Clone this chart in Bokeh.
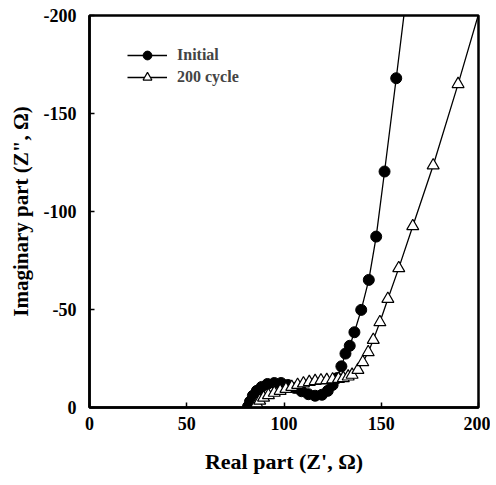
from bokeh.plotting import figure
from bokeh.models import Range1d, FixedTicker, Legend, LegendItem
from bokeh.embed import file_html
from bokeh.resources import INLINE

# Initial (Z', Z'')
init_re = [81.5, 82.5, 84.0, 86.0, 88.5, 91.5, 95.0, 98.5, 102.0, 105.5, 109.0, 112.5,
           116.0, 119.5, 122.5, 125.0, 127.3, 129.5, 131.6, 133.8, 136.2, 139.7, 143.6,
           147.4, 151.7, 157.7, 163.5]
init_im = [-0.5, -3.0, -6.0, -8.5, -10.5, -12.0, -12.5, -12.5, -11.5, -10.0, -8.3, -6.8,
           -6.0, -6.5, -8.5, -11.5, -15.0, -21.0, -27.5, -31.5, -38.4, -49.8, -65.1,
           -87.2, -120.4, -168.0, -215.0]

# 200 cycle (Z', Z'')
cyc_re = [85.0, 86.0, 87.5, 89.5, 92.0, 95.0, 98.0, 101.0, 104.0, 107.0, 110.0, 113.0,
          116.0, 119.0, 122.0, 125.0, 128.0, 130.5, 133.0, 135.0, 138.0, 140.5, 143.3,
          145.9, 149.3, 153.4, 159.0, 166.2, 176.7, 189.5, 201.0]
cyc_im = [-0.5, -2.0, -3.5, -5.0, -6.3, -7.5, -8.5, -9.5, -10.5, -11.5, -12.3, -13.0,
          -13.5, -13.8, -14.0, -14.3, -14.6, -15.0, -15.8, -16.7, -19.2, -23.1, -28.2,
          -34.5, -43.5, -55.4, -71.1, -92.5, -123.5, -165.0, -204.0]

x_ticks = [0, 50, 100, 150, 200]
x_tick_labels = ["0", "50", "100", "150", "200"]
y_ticks = [0, -50, -100, -150, -200]
y_tick_labels = ["0", "-50", "-100", "-150", "-200"]

FONT = "Liberation Serif"

p = figure(width=490, height=482, output_backend="svg", toolbar_location=None,
           x_range=Range1d(0, 200), y_range=Range1d(0, -200),
           min_border_left=89, min_border_top=15, min_border_right=12, min_border_bottom=75)

p.background_fill_color = "white"
p.border_fill_color = "white"
p.grid.visible = False
p.outline_line_color = "black"
p.outline_line_width = 2.5
p.outline_line_alpha = 1

for ax, ticks, labels in ((p.xaxis[0], x_ticks, x_tick_labels), (p.yaxis[0], y_ticks, y_tick_labels)):
    ax.ticker = FixedTicker(ticks=ticks)
    ax.major_label_overrides = {t: s for t, s in zip(ticks, labels)}
    ax.axis_line_width = 2.5
    ax.axis_line_color = "black"
    ax.major_tick_in = 5
    ax.major_tick_out = 0
    ax.major_tick_line_width = 1.5
    ax.minor_tick_line_color = None
    ax.major_label_text_font = FONT
    ax.major_label_text_font_style = "bold"
    ax.major_label_text_font_size = "18px"
    ax.major_label_text_color = "black"
    ax.axis_label_text_font = FONT
    ax.axis_label_text_font_style = "bold"
    ax.axis_label_text_color = "black"

p.xaxis.axis_label = "Real part (Z', \u03a9)"
p.yaxis.axis_label = "Imaginary part (Z\", \u03a9)"
p.xaxis.axis_label_text_font_size = "22px"
p.yaxis.axis_label_text_font_size = "21px"
p.xaxis.major_label_standoff = 9
p.yaxis.major_label_standoff = 13
p.xaxis.axis_label_standoff = 16
p.yaxis.axis_label_standoff = 8

l1 = p.line(init_re, init_im, line_color="black", line_width=1.3)
m1 = p.scatter(init_re, init_im, marker="circle", size=11, fill_color="black", line_color="black")
l2 = p.line(cyc_re, cyc_im, line_color="black", line_width=1.3)
m2 = p.scatter(cyc_re, cyc_im, marker="triangle", size=12, fill_color="white", line_color="black",
               line_width=1.2)

legend = Legend(items=[LegendItem(label="Initial", renderers=[l1, m1]),
                       LegendItem(label="200 cycle", renderers=[l2, m2])],
                location=(38, 319))
legend.border_line_color = None
legend.background_fill_alpha = 0
legend.label_text_font = FONT
legend.label_text_font_style = "bold"
legend.label_text_font_size = "16px"
legend.glyph_width = 40
legend.glyph_height = 22
legend.label_standoff = 10
legend.label_height = 18
legend.spacing = 0
legend.margin = 0
legend.padding = 0
p.add_layout(legend)

open("out.html", "w").write(file_html(p, INLINE))
